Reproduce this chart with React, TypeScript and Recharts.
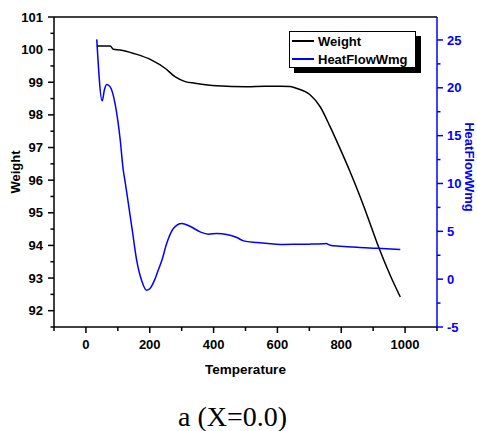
import React from 'react';
import { LineChart, Line, XAxis, YAxis, Legend, ReferenceLine, Label } from 'recharts';

// Temperature (deg C) / weight (%)
const weightTemp = [34, 76, 86, 107, 154, 206, 248, 279, 311, 342, 410, 504, 560, 609, 640, 661, 703, 734, 765, 797, 828, 854, 880, 917, 954, 985];
const weightVals = [100.11, 100.11, 100.01, 99.99, 99.87, 99.68, 99.43, 99.17, 99.02, 98.97, 98.89, 98.86, 98.88, 98.88, 98.87, 98.81, 98.61, 98.25, 97.64, 96.95, 96.25, 95.62, 94.95, 93.95, 93.07, 92.42];

// Temperature / heat flow (W/mg)
const heatTemp = [34, 51, 58, 65, 76, 91, 101, 107, 117, 122, 133, 145, 159, 175, 190, 200, 215, 225, 238, 253, 274, 300, 326, 358, 384, 410, 441, 473, 494, 536, 588, 619, 671, 700, 744, 752, 765, 797, 850, 912, 985];
const heatVals = [25.06, 18.64, 19.8, 20.35, 20.1, 18.4, 16.3, 14.7, 11.4, 10.35, 7.9, 5.17, 1.98, -0.2, -1.16, -1.0, -0.1, 0.8, 1.98, 3.72, 5.29, 5.82, 5.53, 4.94, 4.7, 4.77, 4.67, 4.35, 4.0, 3.83, 3.68, 3.62, 3.65, 3.66, 3.7, 3.72, 3.55, 3.45, 3.33, 3.23, 3.1];

// axis ticks (labels only on the major ones)
const xTicks = [-100, 0, 100, 200, 300, 400, 500, 600, 700, 800, 900, 1000, 1100];
const xLabels = [0, 200, 400, 600, 800, 1000];
const leftTicks = [91.5, 92, 92.5, 93, 93.5, 94, 94.5, 95, 95.5, 96, 96.5, 97, 97.5, 98, 98.5, 99, 99.5, 100, 100.5, 101];
const leftLabels = [92, 93, 94, 95, 96, 97, 98, 99, 100, 101];
const rightTicks = [-5, -2.5, 0, 2.5, 5, 7.5, 10, 12.5, 15, 17.5, 20, 22.5, 25];
const rightLabels = [-5, 0, 5, 10, 15, 20, 25];

const weightData = weightTemp.map((t, i) => ({ t, w: weightVals[i] }));
const heatData = heatTemp.map((t, i) => ({ t, h: heatVals[i] }));

const FONT = '"Liberation Sans", Arial, sans-serif';
const BLUE = '#0000ff';

const BottomTick = (props: any) => {
  const { x, y, payload } = props;
  const major = xLabels.includes(payload.value);
  return (
    <g>
      <line x1={x} y1={y} x2={x} y2={y + (major ? 6 : 4)} stroke="#000" strokeWidth={1.5} />
      {major && (
        <text x={x} y={y + 17} dy="0.35em" textAnchor="middle" fontFamily={FONT} fontWeight="bold" fontSize={13} fill="#000">
          {payload.value}
        </text>
      )}
    </g>
  );
};

const LeftTick = (props: any) => {
  const { x, y, payload } = props;
  const major = leftLabels.includes(payload.value);
  return (
    <g>
      <line x1={x} y1={y} x2={x - (major ? 6 : 3.5)} y2={y} stroke="#000" strokeWidth={1.5} />
      {major && (
        <text x={x - 11} y={y} dy="0.35em" textAnchor="end" fontFamily={FONT} fontWeight="bold" fontSize={13} fill="#000">
          {payload.value}
        </text>
      )}
    </g>
  );
};

const RightTick = (props: any) => {
  const { x, y, payload } = props;
  const major = rightLabels.includes(payload.value);
  return (
    <g>
      <line x1={x} y1={y} x2={x + (major ? 6 : 3.5)} y2={y} stroke={BLUE} strokeWidth={1.5} />
      {major && (
        <text x={x + 10} y={y} dy="0.35em" textAnchor="start" fontFamily={FONT} fontWeight="bold" fontSize={13} fill={BLUE}>
          {payload.value}
        </text>
      )}
    </g>
  );
};

const renderLegend = () => (
  <div style={{
    width: 125, height: 35, border: '1px solid #000', background: '#fff',
    boxShadow: '5px 5px 0 #000', fontFamily: FONT, fontWeight: 'bold', fontSize: 13, color: '#000',
  }}>
    {[{ name: 'Weight', color: '#000' }, { name: 'HeatFlowWmg', color: BLUE }].map((item) => (
      <div key={item.name} style={{ display: 'flex', alignItems: 'center', height: 18 }}>
        <div style={{ width: 22, height: 1.5, background: item.color, marginLeft: 2, marginRight: 4 }} />
        <span>{item.name}</span>
      </div>
    ))}
  </div>
);

export default function App() {
  return (
    <div style={{ position: 'absolute', left: 0, top: 0, width: 477, height: 431, background: '#fff' }}>
      <LineChart width={477} height={431} margin={{ top: 17, right: 0, bottom: 54, left: 0 }}>
        <XAxis
          dataKey="t" type="number" domain={[-100, 1100]} ticks={xTicks} interval={0}
          allowDataOverflow height={50} tickSize={0} tickMargin={0} tickLine={false}
          axisLine={{ stroke: '#000', strokeWidth: 1.5 }} tick={<BottomTick />}
        >
          <Label value="Temperature" position="insideBottom" offset={3}
            style={{ fontFamily: FONT, fontWeight: 'bold', fontSize: 13.5, fill: '#000' }} />
        </XAxis>
        <YAxis
          yAxisId="left" type="number" domain={[91.5, 101]} ticks={leftTicks} interval={0}
          allowDataOverflow width={54} tickSize={0} tickMargin={0} tickLine={false}
          axisLine={{ stroke: '#000', strokeWidth: 1.5 }} tick={<LeftTick />}
        >
          <Label value="Weight" position="insideLeft" angle={-90} offset={15}
            style={{ textAnchor: 'middle', fontFamily: FONT, fontWeight: 'bold', fontSize: 13, fill: '#000' }} />
        </YAxis>
        <YAxis
          yAxisId="right" orientation="right" type="number" domain={[-5, 27.4]} ticks={rightTicks} interval={0}
          allowDataOverflow width={40} tickSize={0} tickMargin={0} tickLine={false}
          axisLine={{ stroke: BLUE, strokeWidth: 1.5 }} tick={<RightTick />}
        >
          <Label value="HeatFlowWmg" position="insideRight" angle={90} offset={7} dy={-5}
            style={{ textAnchor: 'middle', fontFamily: FONT, fontWeight: 'bold', fontSize: 13, fill: BLUE }} />
        </YAxis>
        <ReferenceLine yAxisId="left" y={101} stroke="#000" strokeWidth={1.5} />
        <Legend
          verticalAlign="middle" align="center" layout="vertical" content={renderLegend}
          wrapperStyle={{ position: 'absolute', top: 31, left: 289, width: 'auto', height: 'auto' }}
        />
        <Line yAxisId="left" data={weightData} dataKey="w" name="Weight" type="monotone"
          stroke="#000" strokeWidth={1.5} dot={false} isAnimationActive={false} />
        <Line yAxisId="right" data={heatData} dataKey="h" name="HeatFlowWmg" type="monotone"
          stroke={BLUE} strokeWidth={1.5} dot={false} isAnimationActive={false} />
      </LineChart>
      <div style={{
        position: 'absolute', left: 0, width: 465, top: 403, textAlign: 'center',
        fontFamily: '"Liberation Serif", "Times New Roman", serif', fontSize: 28, lineHeight: '28px', color: '#000',
      }}>
        a (X=0.0)
      </div>
    </div>
  );
}
